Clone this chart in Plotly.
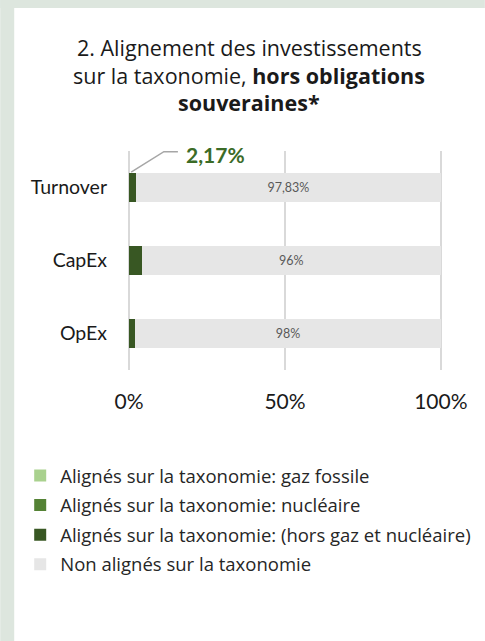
import plotly.graph_objects as go

categories = ["Turnover", "CapEx", "OpEx"]
gaz_fossile = [0, 0, 0]
nucleaire = [0, 0, 0]
hors_gaz_nucleaire = [2.17, 4, 2]
non_alignes = [97.83, 96, 98]
series_names = [
    "Alignés sur la taxonomie: gaz fossile",
    "Alignés sur la taxonomie: nucléaire",
    "Alignés sur la taxonomie: (hors gaz et nucléaire)",
    "Non alignés sur la taxonomie",
]
x_tick_vals = [0, 50, 100]
x_tick_text = ["0%", "50%", "100%"]
colors = ["#a9d18e", "#548235", "#385723", "#e6e6e6"]

W, H = 485, 641
XMIN, XMAX = -1, 101
X0PX, X100PX = 129, 441
SCALE = (X100PX - X0PX) / 100.0
L = X0PX + XMIN * SCALE
R = X0PX + XMAX * SCALE
T, B = 151, 370


def px(xp):
    return (xp - L) / (R - L)


def py(yp):
    return (B - yp) / (B - T)


def fr(v):
    return f"{v:g}".replace(".", ",") + "%"


fig = go.Figure()
all_series = [gaz_fossile, nucleaire, hors_gaz_nucleaire, non_alignes]
for i, (name, vals, col) in enumerate(zip(series_names, all_series, colors)):
    kw = {}
    if i == 3:
        kw = dict(
            text=[fr(v) for v in vals],
            textposition="inside",
            insidetextanchor="middle",
            textfont=dict(family="Lato, Open Sans, sans-serif", size=12.5, color="#595959"),
        )
    fig.add_trace(
        go.Bar(
            y=categories,
            x=vals,
            name=name,
            orientation="h",
            width=0.4,
            marker=dict(color=col, line=dict(width=0)),
            legendgroup=f"g{i}",
            hoverinfo="skip",
            **kw,
        )
    )

# leader line and label for the Turnover aligned share
v0 = hors_gaz_nucleaire[0]
fig.add_shape(
    type="path",
    xref="x",
    yref="y",
    path=f"M {v0*0.3} -0.21 L {v0*0.3+10.5} -0.49 L {v0*0.3+15} -0.49",
    line=dict(color="#a6a6a6", width=1.5),
    layer="above",
)
fig.add_annotation(
    x=v0 / 2 + 26.5,
    y=-0.45,
    xref="x",
    yref="y",
    text="<b>" + fr(v0) + "</b>",
    showarrow=False,
    font=dict(family="Lato, Open Sans, sans-serif", size=21, color="#3b6b27"),
    xanchor="center",
    yanchor="middle",
)

# page background strips
bg = "#dde6de"
fig.add_shape(type="rect", xref="paper", yref="paper", x0=px(0), x1=px(14), y0=py(H), y1=py(0),
              fillcolor=bg, line=dict(width=0), layer="below")
fig.add_shape(type="rect", xref="paper", yref="paper", x0=px(0), x1=px(W), y0=py(8), y1=py(0),
              fillcolor=bg, line=dict(width=0), layer="below")

# title lines
title_lines = [
    "2. Alignement des investissements",
    "sur la taxonomie, <b>hors obligations</b>",
    "<b>souveraines*</b>",
]
for line, yp in zip(title_lines, [47, 75, 102]):
    fig.add_annotation(
        x=px(249), y=py(yp), xref="paper", yref="paper", text=line, showarrow=False,
        font=dict(family="Open Sans, sans-serif", size=21.5, color="#1a1a1a"),
        xanchor="center", yanchor="middle",
    )

fig.update_layout(
    width=W,
    height=H,
    barmode="stack",
    paper_bgcolor="white",
    plot_bgcolor="white",
    margin=dict(l=L, r=W - R, t=T, b=H - B, pad=0),
    showlegend=True,
    legend=dict(
        x=px(20), y=py(457), xanchor="left", yanchor="top",
        font=dict(family="Open Sans, sans-serif", size=18.5, color="#262626"),
        traceorder="grouped", tracegroupgap=2.5, itemclick=False,
        bgcolor="rgba(0,0,0,0)",
    ),
    xaxis=dict(
        range=[XMIN, XMAX],
        tickvals=x_tick_vals,
        ticktext=x_tick_text,
        showgrid=True,
        gridcolor="#d9d9d9",
        gridwidth=1.5,
        zeroline=False,
        showline=False,
        ticks="",
        ticklabelstandoff=17,
        tickfont=dict(family="Lato, Open Sans, sans-serif", size=21, color="#1a1a1a"),
        fixedrange=True,
    ),
    yaxis=dict(
        categoryorder="array",
        categoryarray=categories,
        range=[2.5, -0.5],
        showgrid=False,
        zeroline=False,
        showline=False,
        ticks="",
        ticklabelstandoff=18,
        tickfont=dict(family="Lato, Open Sans, sans-serif", size=19.5, color="#1a1a1a"),
        fixedrange=True,
    ),
)

fig.write_html(
    "out.html",
    config={"displayModeBar": False},
    post_script="document.body.style.margin='0';document.body.style.padding='0';",
)
